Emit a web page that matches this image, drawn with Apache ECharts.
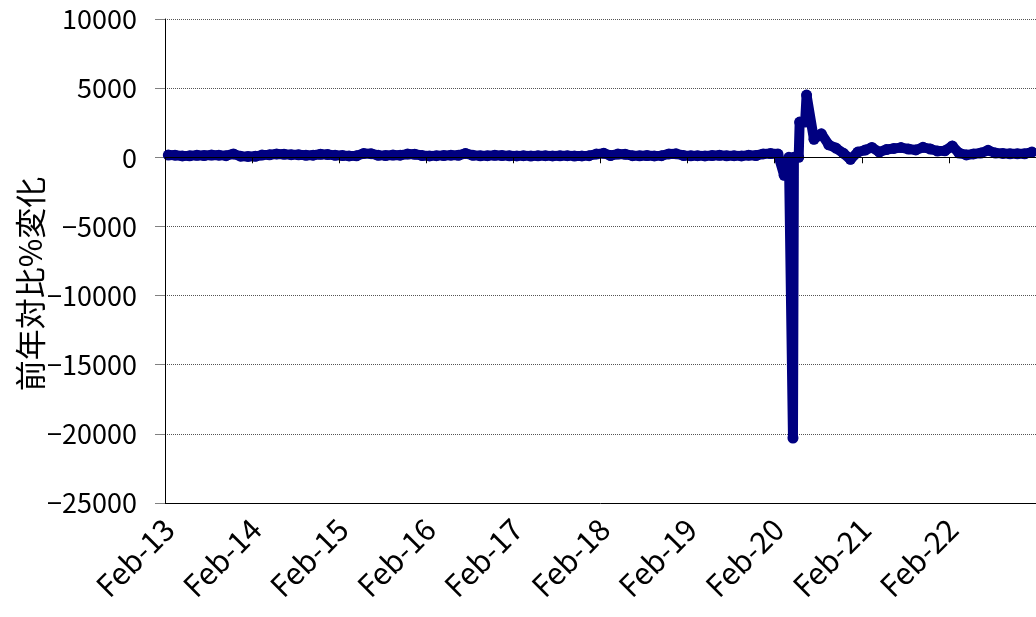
<!DOCTYPE html>
<html>
<head>
<meta charset="utf-8">
<script src="https://cdn.jsdelivr.net/npm/echarts@6/dist/echarts.min.js"></script>
<style>
html,body{margin:0;padding:0;background:#fff;}
#chart{width:1036px;height:617px;}
</style>
</head>
<body>
<div id="chart"></div>
<script>
// Month categories (axis ticks / labels every 12 months, starting Feb-13)
const categories = [
'Feb-13','Mar-13','Apr-13','May-13','Jun-13','Jul-13','Aug-13','Sep-13','Oct-13','Nov-13','Dec-13','Jan-14',
'Feb-14','Mar-14','Apr-14','May-14','Jun-14','Jul-14','Aug-14','Sep-14','Oct-14','Nov-14','Dec-14','Jan-15',
'Feb-15','Mar-15','Apr-15','May-15','Jun-15','Jul-15','Aug-15','Sep-15','Oct-15','Nov-15','Dec-15','Jan-16',
'Feb-16','Mar-16','Apr-16','May-16','Jun-16','Jul-16','Aug-16','Sep-16','Oct-16','Nov-16','Dec-16','Jan-17',
'Feb-17','Mar-17','Apr-17','May-17','Jun-17','Jul-17','Aug-17','Sep-17','Oct-17','Nov-17','Dec-17','Jan-18',
'Feb-18','Mar-18','Apr-18','May-18','Jun-18','Jul-18','Aug-18','Sep-18','Oct-18','Nov-18','Dec-18','Jan-19',
'Feb-19','Mar-19','Apr-19','May-19','Jun-19','Jul-19','Aug-19','Sep-19','Oct-19','Nov-19','Dec-19','Jan-20',
'Feb-20','Mar-20','Apr-20','May-20','Jun-20','Jul-20','Aug-20','Sep-20','Oct-20','Nov-20','Dec-20','Jan-21',
'Feb-21','Mar-21','Apr-21','May-21','Jun-21','Jul-21','Aug-21','Sep-21','Oct-21','Nov-21','Dec-21','Jan-22',
'Feb-22','Mar-22','Apr-22','May-22','Jun-22','Jul-22','Aug-22','Sep-22','Oct-22','Nov-22','Dec-22','Jan-23'
];

const obsDates = [
'2013-02-15','2013-03-15','2013-04-15','2013-05-15','2013-06-15','2013-07-15','2013-08-15','2013-09-15','2013-10-15','2013-11-15','2013-12-15','2014-01-15',
'2014-02-15','2014-03-15','2014-04-15','2014-05-15','2014-06-15','2014-07-15','2014-08-15','2014-09-15','2014-10-15','2014-11-15','2014-12-15','2015-01-15',
'2015-02-15','2015-03-15','2015-04-15','2015-05-15','2015-06-15','2015-07-15','2015-08-15','2015-09-15','2015-10-15','2015-11-15','2015-12-15','2016-01-15',
'2016-02-15','2016-03-15','2016-04-15','2016-05-15','2016-06-15','2016-07-15','2016-08-15','2016-09-15','2016-10-15','2016-11-15','2016-12-15','2017-01-15',
'2017-02-15','2017-03-15','2017-04-15','2017-05-15','2017-06-15','2017-07-15','2017-08-15','2017-09-15','2017-10-15','2017-11-15','2017-12-15','2018-01-15',
'2018-02-15','2018-03-15','2018-04-15','2018-05-15','2018-06-15','2018-07-15','2018-08-15','2018-09-15','2018-10-15','2018-11-15','2018-12-15','2019-01-15',
'2019-02-15','2019-03-15','2019-04-15','2019-05-15','2019-06-15','2019-07-15','2019-08-15','2019-09-15','2019-10-15','2019-11-15','2019-12-15','2020-01-15',
'2020-02-15','2020-03-12','2020-04-01','2020-04-18','2020-04-22','2020-05-12','2020-05-16','2020-06-08','2020-06-14',
'2020-07-15','2020-08-15','2020-09-15','2020-10-15','2020-11-15','2020-12-15','2021-01-15',
'2021-02-15','2021-03-15','2021-04-15','2021-05-15','2021-06-15','2021-07-15','2021-08-15','2021-09-15','2021-10-15','2021-11-15','2021-12-15','2022-01-15',
'2022-02-15','2022-03-15','2022-04-15','2022-05-15','2022-06-15','2022-07-15','2022-08-15','2022-09-15','2022-10-15','2022-11-15','2022-12-15','2023-01-15'
];
const yoyChange = [
160,150,100,110,140,130,160,150,120,240,80,60,
70,160,180,240,220,190,180,140,150,220,200,140,
130,100,110,280,260,140,130,160,150,230,220,130,
100,120,130,150,140,280,140,110,120,140,130,110,
100,120,90,110,120,100,110,120,90,100,120,230,
290,130,230,220,120,110,130,100,120,240,250,130,
110,120,100,130,140,110,120,100,150,130,240,270,
230,-1300,0,-20300,0,0,2550,2550,4500,
1300,1700,900,670,300,-150,380,
520,710,380,560,640,700,600,530,720,600,450,470,
820,310,170,240,310,500,310,280,250,250,250,380
];

const yAxisTitle = '前年対比%変化';
const yMin = -25000, yMax = 10000, yStep = 5000;
const timeStart = '2013-02-01', timeEnd = '2023-02-01';

const FONT = 'Noto Sans CJK JP';
const NAVY = '#000080';
const chart = echarts.init(document.getElementById('chart'), null, {renderer: 'canvas'});

chart.setOption({
  animation: false,
  backgroundColor: '#fff',
  grid: {left: 165, right: -4, top: 19, bottom: 114, containLabel: false},
  xAxis: [
    { // zero line with yearly ticks
      type: 'category', data: categories, boundaryGap: true, position: 'bottom', z: 5,
      axisLine: {show: true, onZero: true, lineStyle: {color: '#000', width: 1}},
      axisTick: {show: true, interval: 11, length: 6, lineStyle: {color: '#000', width: 1}},
      axisLabel: {show: false},
      splitLine: {show: false}
    },
    { // bottom labels
      type: 'category', data: categories, boundaryGap: true, position: 'bottom',
      axisLine: {show: true, onZero: false, lineStyle: {color: '#000', width: 1}},
      axisTick: {show: false},
      axisLabel: {
        show: true, interval: 11, rotate: 45, align: 'right', verticalAlign: 'middle',
        margin: 21, fontSize: 30, fontFamily: FONT, color: '#000'
      },
      splitLine: {show: false}
    },
    { // time scale for the data
      type: 'time', min: timeStart, max: timeEnd, position: 'top', show: false,
      splitLine: {show: false}
    }
  ],
  yAxis: {
    type: 'value', min: yMin, max: yMax, interval: yStep,
    axisLine: {show: true, onZero: false, lineStyle: {color: '#000', width: 1}},
    axisTick: {show: true, length: 10, lineStyle: {color: '#808080', width: 1}},
    axisLabel: {
      margin: 28, fontSize: 27, fontFamily: FONT, color: '#000',
      formatter: v => (v < 0 ? '\u2212' + Math.abs(v) : String(v))
    },
    splitLine: {show: true, lineStyle: {color: '#555', type: 'dotted', width: 1}}
  },
  graphic: [{
    type: 'text', x: 30, y: 284, rotation: Math.PI / 2,
    style: {text: yAxisTitle, fontSize: 31, fontFamily: FONT, fill: '#000', align: 'center', verticalAlign: 'middle'}
  }],
  series: [{
    type: 'line', xAxisIndex: 2, yAxisIndex: 0,
    data: obsDates.map((d, i) => [d, yoyChange[i]]),
    symbol: 'circle', symbolSize: 11, showAllSymbol: true,
    lineStyle: {color: NAVY, width: 10, join: 'round', cap: 'round'},
    itemStyle: {color: NAVY},
    z: 2
  }]
});
</script>
</body>
</html>
